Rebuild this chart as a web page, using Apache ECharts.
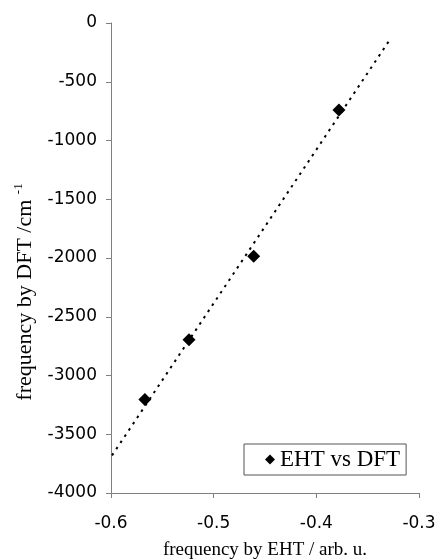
<!DOCTYPE html>
<html>
<head>
<meta charset="utf-8">
<script src="https://cdn.jsdelivr.net/npm/echarts@6/dist/echarts.min.js"></script>
<style>html,body{margin:0;padding:0;background:#fff;}#c{width:438px;height:560px;}</style>
</head>
<body>
<div id="c"></div>
<script>
// Data
const seriesName = 'EHT vs DFT';
const ehtFreq = [-0.378, -0.461, -0.524, -0.567];
const dftFreq = [-740, -1985, -2695, -3205];
// Linear trendline endpoints as drawn
const trendX = [-0.599, -0.329];
const trendY = [-3680, -150];
// Axis ticks
const xTicks = [-0.6, -0.5, -0.4, -0.3];
const yTicks = [-4000, -3500, -3000, -2500, -2000, -1500, -1000, -500, 0];
const xTitle = 'frequency by EHT / arb. u.';
const yTitle = 'frequency by DFT /cm';
const yTitleSup = '-1';

const chart = echarts.init(document.getElementById('c'), null, {renderer: 'canvas'});
const axisGray = '#808080';
const labelFont = 'DejaVu Sans';
const serif = 'Liberation Serif';

chart.setOption({
  animation: false,
  backgroundColor: '#ffffff',
  grid: {left: 111, right: 19, top: 23, bottom: 67, containLabel: false, outerBoundsMode: 'none'},
  xAxis: {
    type: 'value',
    min: xTicks[0], max: xTicks[xTicks.length - 1],
    interval: 0.1,
    name: xTitle, nameLocation: 'middle', nameGap: 48,
    nameTextStyle: {fontFamily: serif, fontSize: 19, color: '#000', verticalAlign: 'top'},
    axisLine: {show: true, onZero: false, lineStyle: {color: axisGray, width: 1}},
    axisTick: {show: true, inside: false, length: 5, lineStyle: {color: axisGray}},
    axisLabel: {margin: 22, fontFamily: labelFont, fontSize: 17, color: '#000',
      formatter: v => { const t = xTicks.find(k => Math.abs(k - v) < 1e-9); return t === undefined ? '' : t.toFixed(1); }},
    splitLine: {show: false}
  },
  yAxis: {
    type: 'value',
    min: yTicks[0], max: yTicks[yTicks.length - 1],
    interval: 500,
    axisLine: {show: true, onZero: false, lineStyle: {color: axisGray, width: 1}},
    axisTick: {show: true, inside: false, length: 5, lineStyle: {color: axisGray}},
    axisLabel: {margin: 14, fontFamily: labelFont, fontSize: 17, color: '#000',
      formatter: v => String(Math.round(v))},
    splitLine: {show: false}
  },
  legend: {
    data: [seriesName],
    left: 244, top: 444,
    orient: 'vertical',
    padding: [4, 6, 4, 21],
    itemGap: 0,
    itemWidth: 10, itemHeight: 10,
    backgroundColor: '#fff',
    borderColor: '#555',
    borderWidth: 1,
    borderRadius: 0,
    textStyle: {fontFamily: serif, fontSize: 23, color: '#000'},
    icon: 'diamond'
  },
  graphic: [{
    type: 'text',
    x: 25, y: 292,
    rotation: Math.PI / 2,
    style: {
      text: yTitle + ' {sup|' + yTitleSup + '}',
      fontFamily: serif, fontSize: 22, fill: '#000',
      align: 'center', verticalAlign: 'middle',
      rich: {sup: {fontFamily: serif, fontSize: 13, fill: '#000', padding: [0, 0, 12, 0]}}
    }
  }],
  series: [
    {
      name: seriesName,
      type: 'scatter',
      symbol: 'diamond',
      symbolSize: 13,
      itemStyle: {color: '#000', opacity: 1},
      data: ehtFreq.map((x, i) => [x, dftFreq[i]]),
      z: 3
    },
    {
      name: 'trend',
      type: 'line',
      symbol: 'none',
      silent: true,
      lineStyle: {color: '#000', width: 2, type: [2.5, 5]},
      data: trendX.map((x, i) => [x, trendY[i]]),
      z: 2
    }
  ]
});
</script>
</body>
</html>
